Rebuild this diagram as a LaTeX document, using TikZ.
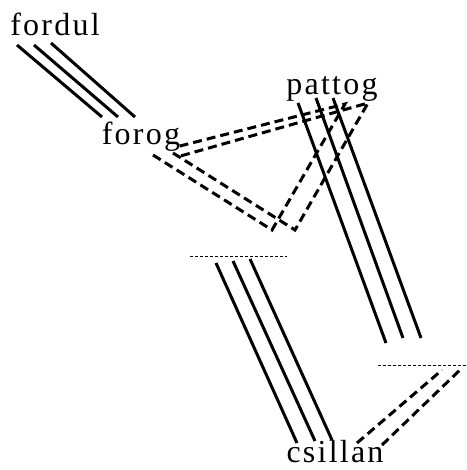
\documentclass[tikz,border=0pt]{standalone}
\usepackage{fontspec}
\setmainfont{Liberation Serif}
\newfontfamily\wordfont[LetterSpace=7]{Liberation Serif}
\begin{document}
\begin{tikzpicture}[x=1pt,y=-1pt,
  word/.style={font=\wordfont\fontsize{32}{36}\selectfont, anchor=base, inner sep=0pt, text depth=0pt},
  strand/.style={line width=3pt},
  flow/.style={line width=3pt, dash pattern=on 9pt off 5pt},
  rim/.style={line width=0.9pt, dash pattern=on 3pt off 2pt}]
\useasboundingbox (0,0) rectangle (466,470);

% labels
\node[word] (fordul)  at (55,36)   {fordul};
\node[word] (forog)   at (141,145) {forog};
\node[word] (pattog)  at (332,95)  {pattog};
\node[word] (csillan) at (335,462) {csillan};

% fordul -> forog, three strands
\coordinate (a1) at (17,45);  \coordinate (b1) at (102,117);
\coordinate (a2) at (34,45);  \coordinate (b2) at (118,117);
\coordinate (a3) at (51,43);  \coordinate (b3) at (135,117);
\foreach \i in {1,2,3} \draw[strand] (a\i) -- (b\i);

% pattog, three strands downwards
\coordinate (p1) at (298,103); \coordinate (q1) at (386,343);
\coordinate (p2) at (316,98);  \coordinate (q2) at (403,338);
\coordinate (p3) at (333,98);  \coordinate (q3) at (421,338);
\foreach \i in {1,2,3} \draw[strand] (p\i) -- (q\i);

% three strands into csillan
\coordinate (r1) at (216,263); \coordinate (s1) at (297,443);
\coordinate (r2) at (233,261); \coordinate (s2) at (315,441);
\coordinate (r3) at (250,259); \coordinate (s3) at (332,440);
\foreach \i in {1,2,3} \draw[strand] (r\i) -- (s\i);

% thin rims
\coordinate (m1) at (190,256); \coordinate (m2) at (287,256);
\coordinate (n1) at (378,365); \coordinate (n2) at (466,365);
\draw[rim] (m1) -- (m2);
\draw[rim] (n1) -- (n2);

% dashed loops between forog and pattog
\coordinate (f1) at (153,155); \coordinate (v1) at (272,230); \coordinate (t1) at (345,104); \coordinate (e1) at (176,147);
\coordinate (f2) at (173,153); \coordinate (v2) at (295,230); \coordinate (t2) at (368,103); \coordinate (e2) at (177,157);
\draw[flow] (f1) -- (v1) -- (t1) -- (e1);
\draw[flow] (f2) -- (v2) -- (t2) -- (e2);

% dashed pair into csillan
\coordinate (c1) at (357,443); \coordinate (d1) at (442,370);
\coordinate (c2) at (382,445); \coordinate (d2) at (462,368);
\draw[flow] (c1) -- (d1);
\draw[flow] (c2) -- (d2);
\end{tikzpicture}
\end{document}
